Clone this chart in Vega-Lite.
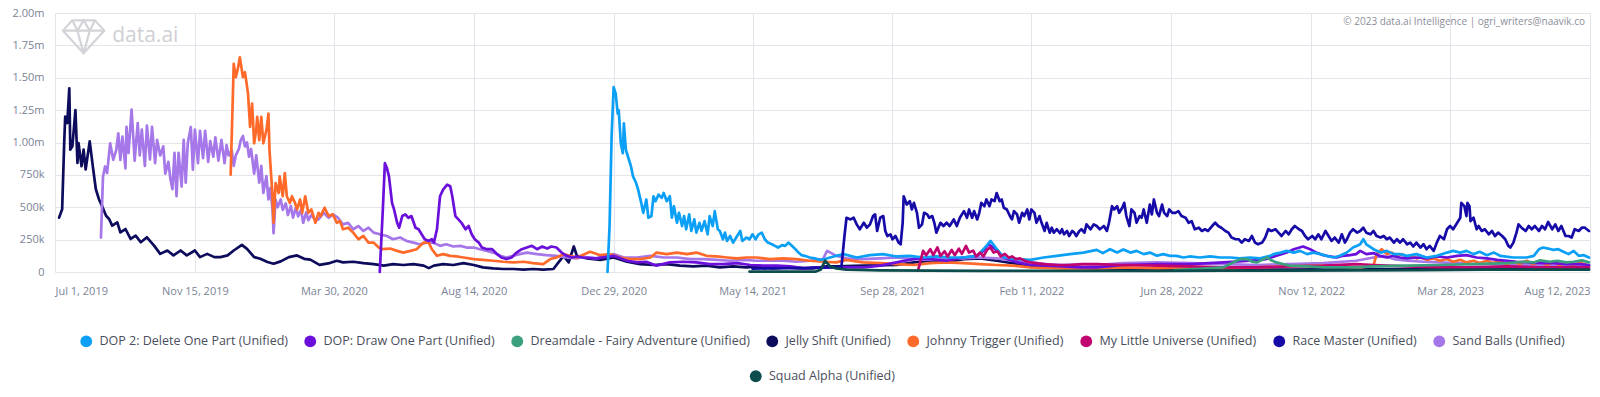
{
"$schema":"https://vega.github.io/schema/vega-lite/v6.json",
"width":1600,"height":397,
"autosize":{"type":"fit","contains":"padding"},
"padding":{"left":12,"top":7,"right":9,"bottom":14},
"background":"#ffffff",
"datasets":{
"names":[
{"s":"a","n":"DOP 2: Delete One Part (Unified)"},
{"s":"b","n":"DOP: Draw One Part (Unified)"},
{"s":"c","n":"Dreamdale - Fairy Adventure (Unified)"},
{"s":"d","n":"Jelly Shift (Unified)"},
{"s":"e","n":"Johnny Trigger (Unified)"},
{"s":"f","n":"My Little Universe (Unified)"},
{"s":"g","n":"Race Master (Unified)"},
{"s":"h","n":"Sand Balls (Unified)"},
{"s":"i","n":"Squad Alpha (Unified)"}
],
"rows":[
{"s":"d","t":"2019-07-05","v":420},{"s":"d","t":"2019-07-08","v":485},{"s":"d","t":"2019-07-10","v":996},{"s":"d","t":"2019-07-11","v":1200},{"s":"d","t":"2019-07-13","v":1150},{"s":"d","t":"2019-07-15","v":1418},{"s":"d","t":"2019-07-16","v":945},{"s":"d","t":"2019-07-18","v":970},{"s":"d","t":"2019-07-21","v":1250},{"s":"d","t":"2019-07-23","v":843},{"s":"d","t":"2019-07-24","v":996},{"s":"d","t":"2019-07-27","v":817},{"s":"d","t":"2019-07-29","v":945},{"s":"d","t":"2019-07-31","v":792},{"s":"d","t":"2019-08-04","v":1009},{"s":"d","t":"2019-08-07","v":817},{"s":"d","t":"2019-08-10","v":639},{"s":"d","t":"2019-08-13","v":562},{"s":"d","t":"2019-08-16","v":511},{"s":"d","t":"2019-08-20","v":434},{"s":"d","t":"2019-08-23","v":409},{"s":"d","t":"2019-08-26","v":358},{"s":"d","t":"2019-08-31","v":383},{"s":"d","t":"2019-09-03","v":306},{"s":"d","t":"2019-09-08","v":332},{"s":"d","t":"2019-09-13","v":255},{"s":"d","t":"2019-09-18","v":281},{"s":"d","t":"2019-09-23","v":230},{"s":"d","t":"2019-09-29","v":268},{"s":"d","t":"2019-10-06","v":204},{"s":"d","t":"2019-10-12","v":140},{"s":"d","t":"2019-10-19","v":166},{"s":"d","t":"2019-10-25","v":128},{"s":"d","t":"2019-11-01","v":166},{"s":"d","t":"2019-11-07","v":128},{"s":"d","t":"2019-11-15","v":166},{"s":"d","t":"2019-11-20","v":115},{"s":"d","t":"2019-11-27","v":140},{"s":"d","t":"2019-12-04","v":115},{"s":"d","t":"2019-12-10","v":115},{"s":"d","t":"2019-12-17","v":128},{"s":"d","t":"2019-12-23","v":166},{"s":"d","t":"2019-12-31","v":209},{"s":"d","t":"2020-01-05","v":179},{"s":"d","t":"2020-01-12","v":115},{"s":"d","t":"2020-01-18","v":102},{"s":"d","t":"2020-01-25","v":77},{"s":"d","t":"2020-01-31","v":64},{"s":"d","t":"2020-02-07","v":82},{"s":"d","t":"2020-02-15","v":115},{"s":"d","t":"2020-02-23","v":128},{"s":"d","t":"2020-03-01","v":102},{"s":"d","t":"2020-03-07","v":95},{"s":"d","t":"2020-03-16","v":55},{"s":"d","t":"2020-03-26","v":69},{"s":"d","t":"2020-04-02","v":87},{"s":"d","t":"2020-04-08","v":74},{"s":"d","t":"2020-04-18","v":79},{"s":"d","t":"2020-04-28","v":69},{"s":"d","t":"2020-05-08","v":61},{"s":"d","t":"2020-05-18","v":49},{"s":"d","t":"2020-05-27","v":61},{"s":"d","t":"2020-06-06","v":54},{"s":"d","t":"2020-06-16","v":61},{"s":"d","t":"2020-06-26","v":49},{"s":"d","t":"2020-07-01","v":30},{"s":"d","t":"2020-07-06","v":49},{"s":"d","t":"2020-07-15","v":61},{"s":"d","t":"2020-07-25","v":54},{"s":"d","t":"2020-08-04","v":69},{"s":"d","t":"2020-08-14","v":54},{"s":"d","t":"2020-08-23","v":36},{"s":"d","t":"2020-09-02","v":28},{"s":"d","t":"2020-09-12","v":23},{"s":"d","t":"2020-09-22","v":23},{"s":"d","t":"2020-10-02","v":18},{"s":"d","t":"2020-10-11","v":23},{"s":"d","t":"2020-10-21","v":18},{"s":"d","t":"2020-10-31","v":23},{"s":"d","t":"2020-11-05","v":74},{"s":"d","t":"2020-11-10","v":125},{"s":"d","t":"2020-11-15","v":74},{"s":"d","t":"2020-11-20","v":197},{"s":"d","t":"2020-11-23","v":125},{"s":"d","t":"2020-12-03","v":105},{"s":"d","t":"2020-12-16","v":94},{"s":"d","t":"2020-12-29","v":112},{"s":"d","t":"2021-01-11","v":79},{"s":"d","t":"2021-01-24","v":61},{"s":"d","t":"2021-02-06","v":54},{"s":"d","t":"2021-02-19","v":61},{"s":"d","t":"2021-03-04","v":49},{"s":"d","t":"2021-03-17","v":43},{"s":"d","t":"2021-03-30","v":49},{"s":"d","t":"2021-04-12","v":36},{"s":"d","t":"2021-04-25","v":43},{"s":"d","t":"2021-05-08","v":36},{"s":"d","t":"2021-05-21","v":43},{"s":"d","t":"2021-06-03","v":28},{"s":"d","t":"2021-06-16","v":36},{"s":"d","t":"2021-06-29","v":28},{"s":"d","t":"2021-07-12","v":28},{"s":"d","t":"2021-07-25","v":43},{"s":"d","t":"2021-08-04","v":43},{"s":"d","t":"2021-08-31","v":49},{"s":"d","t":"2021-10-02","v":54},{"s":"d","t":"2021-10-19","v":74},{"s":"d","t":"2021-11-04","v":87},{"s":"d","t":"2021-11-20","v":79},{"s":"d","t":"2021-12-07","v":100},{"s":"d","t":"2021-12-23","v":105},{"s":"d","t":"2022-01-08","v":87},{"s":"d","t":"2022-01-24","v":69},{"s":"d","t":"2022-02-10","v":49},{"s":"d","t":"2022-03-15","v":36},{"s":"d","t":"2022-04-16","v":28},{"s":"d","t":"2022-06-14","v":23},{"s":"d","t":"2022-08-18","v":18},{"s":"d","t":"2022-10-22","v":18},{"s":"d","t":"2022-12-26","v":23},{"s":"d","t":"2023-03-02","v":23},{"s":"d","t":"2023-05-01","v":23},{"s":"d","t":"2023-06-30","v":23},{"s":"d","t":"2023-08-11","v":23},
{"s":"h","t":"2019-08-15","v":266},{"s":"h","t":"2019-08-17","v":738},{"s":"h","t":"2019-08-19","v":815},{"s":"h","t":"2019-08-21","v":764},{"s":"h","t":"2019-08-24","v":994},{"s":"h","t":"2019-08-27","v":866},{"s":"h","t":"2019-08-30","v":943},{"s":"h","t":"2019-09-01","v":1070},{"s":"h","t":"2019-09-03","v":866},{"s":"h","t":"2019-09-05","v":1045},{"s":"h","t":"2019-09-08","v":800},{"s":"h","t":"2019-09-09","v":1120},{"s":"h","t":"2019-09-11","v":920},{"s":"h","t":"2019-09-14","v":1254},{"s":"h","t":"2019-09-17","v":860},{"s":"h","t":"2019-09-20","v":1150},{"s":"h","t":"2019-09-22","v":900},{"s":"h","t":"2019-09-24","v":1100},{"s":"h","t":"2019-09-27","v":820},{"s":"h","t":"2019-09-29","v":1130},{"s":"h","t":"2019-10-02","v":870},{"s":"h","t":"2019-10-04","v":1120},{"s":"h","t":"2019-10-07","v":840},{"s":"h","t":"2019-10-09","v":1020},{"s":"h","t":"2019-10-12","v":900},{"s":"h","t":"2019-10-15","v":970},{"s":"h","t":"2019-10-17","v":760},{"s":"h","t":"2019-10-20","v":850},{"s":"h","t":"2019-10-22","v":720},{"s":"h","t":"2019-10-24","v":640},{"s":"h","t":"2019-10-26","v":920},{"s":"h","t":"2019-10-28","v":585},{"s":"h","t":"2019-10-30","v":920},{"s":"h","t":"2019-11-02","v":660},{"s":"h","t":"2019-11-04","v":1020},{"s":"h","t":"2019-11-06","v":690},{"s":"h","t":"2019-11-08","v":994},{"s":"h","t":"2019-11-11","v":1120},{"s":"h","t":"2019-11-13","v":790},{"s":"h","t":"2019-11-15","v":1100},{"s":"h","t":"2019-11-18","v":840},{"s":"h","t":"2019-11-20","v":1090},{"s":"h","t":"2019-11-23","v":880},{"s":"h","t":"2019-11-25","v":1090},{"s":"h","t":"2019-11-28","v":850},{"s":"h","t":"2019-11-30","v":1010},{"s":"h","t":"2019-12-03","v":890},{"s":"h","t":"2019-12-05","v":1040},{"s":"h","t":"2019-12-08","v":860},{"s":"h","t":"2019-12-11","v":1020},{"s":"h","t":"2019-12-14","v":840},{"s":"h","t":"2019-12-16","v":980},{"s":"h","t":"2019-12-18","v":900},{"s":"h","t":"2019-12-21","v":940},{"s":"h","t":"2019-12-23","v":820},{"s":"h","t":"2019-12-25","v":900},{"s":"h","t":"2019-12-28","v":950},{"s":"h","t":"2019-12-30","v":1020},{"s":"h","t":"2020-01-01","v":1050},{"s":"h","t":"2020-01-03","v":970},{"s":"h","t":"2020-01-05","v":1000},{"s":"h","t":"2020-01-07","v":890},{"s":"h","t":"2020-01-09","v":950},{"s":"h","t":"2020-01-12","v":760},{"s":"h","t":"2020-01-14","v":900},{"s":"h","t":"2020-01-17","v":690},{"s":"h","t":"2020-01-19","v":820},{"s":"h","t":"2020-01-21","v":610},{"s":"h","t":"2020-01-24","v":740},{"s":"h","t":"2020-01-26","v":560},{"s":"h","t":"2020-01-28","v":650},{"s":"h","t":"2020-01-30","v":480},{"s":"h","t":"2020-01-31","v":300},{"s":"h","t":"2020-02-02","v":560},{"s":"h","t":"2020-02-04","v":500},{"s":"h","t":"2020-02-07","v":560},{"s":"h","t":"2020-02-09","v":480},{"s":"h","t":"2020-02-12","v":530},{"s":"h","t":"2020-02-14","v":440},{"s":"h","t":"2020-02-17","v":510},{"s":"h","t":"2020-02-19","v":420},{"s":"h","t":"2020-02-22","v":500},{"s":"h","t":"2020-02-24","v":430},{"s":"h","t":"2020-02-27","v":480},{"s":"h","t":"2020-02-29","v":380},{"s":"h","t":"2020-03-03","v":460},{"s":"h","t":"2020-03-05","v":400},{"s":"h","t":"2020-03-08","v":440},{"s":"h","t":"2020-03-12","v":400},{"s":"h","t":"2020-03-15","v":406},{"s":"h","t":"2020-03-20","v":457},{"s":"h","t":"2020-03-25","v":419},{"s":"h","t":"2020-03-29","v":445},{"s":"h","t":"2020-04-03","v":419},{"s":"h","t":"2020-04-08","v":368},{"s":"h","t":"2020-04-13","v":380},{"s":"h","t":"2020-04-18","v":330},{"s":"h","t":"2020-04-23","v":355},{"s":"h","t":"2020-04-28","v":317},{"s":"h","t":"2020-05-03","v":342},{"s":"h","t":"2020-05-08","v":304},{"s":"h","t":"2020-05-14","v":291},{"s":"h","t":"2020-05-21","v":278},{"s":"h","t":"2020-05-27","v":253},{"s":"h","t":"2020-06-03","v":266},{"s":"h","t":"2020-06-09","v":240},{"s":"h","t":"2020-06-16","v":227},{"s":"h","t":"2020-06-22","v":214},{"s":"h","t":"2020-06-29","v":227},{"s":"h","t":"2020-07-05","v":227},{"s":"h","t":"2020-07-12","v":202},{"s":"h","t":"2020-07-18","v":214},{"s":"h","t":"2020-07-25","v":197},{"s":"h","t":"2020-08-01","v":202},{"s":"h","t":"2020-08-07","v":189},{"s":"h","t":"2020-08-14","v":189},{"s":"h","t":"2020-08-20","v":176},{"s":"h","t":"2020-08-27","v":163},{"s":"h","t":"2020-09-02","v":150},{"s":"h","t":"2020-09-09","v":125},{"s":"h","t":"2020-09-15","v":112},{"s":"h","t":"2020-09-22","v":125},{"s":"h","t":"2020-09-28","v":138},{"s":"h","t":"2020-10-05","v":150},{"s":"h","t":"2020-10-15","v":138},{"s":"h","t":"2020-10-24","v":130},{"s":"h","t":"2020-11-03","v":125},{"s":"h","t":"2020-11-13","v":112},{"s":"h","t":"2020-11-23","v":105},{"s":"h","t":"2020-11-29","v":118},{"s":"h","t":"2020-12-12","v":105},{"s":"h","t":"2020-12-29","v":138},{"s":"h","t":"2021-01-08","v":112},{"s":"h","t":"2021-01-21","v":112},{"s":"h","t":"2021-02-03","v":125},{"s":"h","t":"2021-02-16","v":112},{"s":"h","t":"2021-03-01","v":112},{"s":"h","t":"2021-03-14","v":100},{"s":"h","t":"2021-03-27","v":100},{"s":"h","t":"2021-04-09","v":94},{"s":"h","t":"2021-04-22","v":87},{"s":"h","t":"2021-05-05","v":94},{"s":"h","t":"2021-05-18","v":87},{"s":"h","t":"2021-05-31","v":87},{"s":"h","t":"2021-06-13","v":87},{"s":"h","t":"2021-06-26","v":79},{"s":"h","t":"2021-07-09","v":87},{"s":"h","t":"2021-07-22","v":100},{"s":"h","t":"2021-07-26","v":163},{"s":"h","t":"2021-08-01","v":138},{"s":"h","t":"2021-08-04","v":125},{"s":"h","t":"2021-08-14","v":105},{"s":"h","t":"2021-08-30","v":100},{"s":"h","t":"2021-09-16","v":105},{"s":"h","t":"2021-10-02","v":112},{"s":"h","t":"2021-10-19","v":100},{"s":"h","t":"2021-11-04","v":94},{"s":"h","t":"2021-11-20","v":100},{"s":"h","t":"2021-12-06","v":105},{"s":"h","t":"2021-12-23","v":112},{"s":"h","t":"2022-01-08","v":105},{"s":"h","t":"2022-01-24","v":87},{"s":"h","t":"2022-02-10","v":74},{"s":"h","t":"2022-02-26","v":61},{"s":"h","t":"2022-03-14","v":54},{"s":"h","t":"2022-03-31","v":61},{"s":"h","t":"2022-04-16","v":54},{"s":"h","t":"2022-05-12","v":69},{"s":"h","t":"2022-06-14","v":74},{"s":"h","t":"2022-07-16","v":69},{"s":"h","t":"2022-08-18","v":61},{"s":"h","t":"2022-09-20","v":54},{"s":"h","t":"2022-10-22","v":61},{"s":"h","t":"2022-11-24","v":69},{"s":"h","t":"2022-12-26","v":87},{"s":"h","t":"2023-01-12","v":112},{"s":"h","t":"2023-01-22","v":125},{"s":"h","t":"2023-02-01","v":100},{"s":"h","t":"2023-02-14","v":87},{"s":"h","t":"2023-03-02","v":79},{"s":"h","t":"2023-03-18","v":74},{"s":"h","t":"2023-04-04","v":69},{"s":"h","t":"2023-04-20","v":61},{"s":"h","t":"2023-05-06","v":61},{"s":"h","t":"2023-05-23","v":54},{"s":"h","t":"2023-06-08","v":54},{"s":"h","t":"2023-06-24","v":49},{"s":"h","t":"2023-07-11","v":49},{"s":"h","t":"2023-07-27","v":43},{"s":"h","t":"2023-08-11","v":43},
{"s":"e","t":"2019-12-20","v":751},{"s":"e","t":"2019-12-23","v":1607},{"s":"e","t":"2019-12-25","v":1504},{"s":"e","t":"2019-12-27","v":1568},{"s":"e","t":"2019-12-29","v":1658},{"s":"e","t":"2020-01-01","v":1504},{"s":"e","t":"2020-01-03","v":1543},{"s":"e","t":"2020-01-06","v":1377},{"s":"e","t":"2020-01-08","v":1121},{"s":"e","t":"2020-01-10","v":1300},{"s":"e","t":"2020-01-12","v":994},{"s":"e","t":"2020-01-14","v":1096},{"s":"e","t":"2020-01-15","v":1198},{"s":"e","t":"2020-01-17","v":1019},{"s":"e","t":"2020-01-19","v":1198},{"s":"e","t":"2020-01-21","v":994},{"s":"e","t":"2020-01-24","v":1096},{"s":"e","t":"2020-01-26","v":1223},{"s":"e","t":"2020-01-27","v":943},{"s":"e","t":"2020-01-30","v":585},{"s":"e","t":"2020-01-31","v":380},{"s":"e","t":"2020-02-02","v":687},{"s":"e","t":"2020-02-05","v":610},{"s":"e","t":"2020-02-06","v":738},{"s":"e","t":"2020-02-09","v":585},{"s":"e","t":"2020-02-11","v":764},{"s":"e","t":"2020-02-13","v":585},{"s":"e","t":"2020-02-16","v":534},{"s":"e","t":"2020-02-18","v":585},{"s":"e","t":"2020-02-21","v":534},{"s":"e","t":"2020-02-23","v":483},{"s":"e","t":"2020-02-26","v":560},{"s":"e","t":"2020-02-28","v":457},{"s":"e","t":"2020-03-02","v":585},{"s":"e","t":"2020-03-05","v":457},{"s":"e","t":"2020-03-08","v":483},{"s":"e","t":"2020-03-12","v":380},{"s":"e","t":"2020-03-15","v":457},{"s":"e","t":"2020-03-17","v":432},{"s":"e","t":"2020-03-21","v":496},{"s":"e","t":"2020-03-25","v":432},{"s":"e","t":"2020-03-29","v":445},{"s":"e","t":"2020-04-02","v":380},{"s":"e","t":"2020-04-05","v":393},{"s":"e","t":"2020-04-08","v":330},{"s":"e","t":"2020-04-13","v":342},{"s":"e","t":"2020-04-18","v":304},{"s":"e","t":"2020-04-23","v":253},{"s":"e","t":"2020-04-28","v":278},{"s":"e","t":"2020-05-03","v":227},{"s":"e","t":"2020-05-08","v":227},{"s":"e","t":"2020-05-13","v":189},{"s":"e","t":"2020-05-17","v":176},{"s":"e","t":"2020-05-24","v":181},{"s":"e","t":"2020-05-31","v":163},{"s":"e","t":"2020-06-06","v":150},{"s":"e","t":"2020-06-13","v":163},{"s":"e","t":"2020-06-19","v":176},{"s":"e","t":"2020-06-26","v":227},{"s":"e","t":"2020-07-01","v":227},{"s":"e","t":"2020-07-04","v":176},{"s":"e","t":"2020-07-09","v":125},{"s":"e","t":"2020-07-15","v":138},{"s":"e","t":"2020-07-22","v":125},{"s":"e","t":"2020-07-28","v":120},{"s":"e","t":"2020-08-04","v":112},{"s":"e","t":"2020-08-14","v":100},{"s":"e","t":"2020-08-23","v":94},{"s":"e","t":"2020-09-02","v":87},{"s":"e","t":"2020-09-12","v":79},{"s":"e","t":"2020-09-22","v":74},{"s":"e","t":"2020-10-02","v":79},{"s":"e","t":"2020-10-11","v":69},{"s":"e","t":"2020-10-21","v":61},{"s":"e","t":"2020-10-28","v":100},{"s":"e","t":"2020-11-03","v":112},{"s":"e","t":"2020-11-10","v":138},{"s":"e","t":"2020-11-16","v":125},{"s":"e","t":"2020-11-23","v":112},{"s":"e","t":"2020-12-06","v":156},{"s":"e","t":"2020-12-16","v":130},{"s":"e","t":"2020-12-25","v":138},{"s":"e","t":"2021-01-04","v":112},{"s":"e","t":"2021-01-14","v":100},{"s":"e","t":"2021-01-24","v":100},{"s":"e","t":"2021-02-03","v":112},{"s":"e","t":"2021-02-09","v":150},{"s":"e","t":"2021-02-19","v":138},{"s":"e","t":"2021-03-01","v":150},{"s":"e","t":"2021-03-11","v":138},{"s":"e","t":"2021-03-20","v":150},{"s":"e","t":"2021-03-30","v":125},{"s":"e","t":"2021-04-09","v":120},{"s":"e","t":"2021-04-19","v":112},{"s":"e","t":"2021-04-29","v":105},{"s":"e","t":"2021-05-08","v":112},{"s":"e","t":"2021-05-18","v":112},{"s":"e","t":"2021-05-31","v":100},{"s":"e","t":"2021-06-13","v":105},{"s":"e","t":"2021-06-26","v":100},{"s":"e","t":"2021-07-09","v":87},{"s":"e","t":"2021-07-22","v":79},{"s":"e","t":"2021-08-04","v":74},{"s":"e","t":"2021-08-14","v":94},{"s":"e","t":"2021-08-30","v":74},{"s":"e","t":"2021-09-16","v":69},{"s":"e","t":"2021-10-02","v":61},{"s":"e","t":"2021-10-19","v":54},{"s":"e","t":"2021-11-04","v":69},{"s":"e","t":"2021-11-20","v":74},{"s":"e","t":"2021-12-06","v":69},{"s":"e","t":"2021-12-23","v":61},{"s":"e","t":"2022-01-08","v":54},{"s":"e","t":"2022-01-24","v":49},{"s":"e","t":"2022-02-10","v":36},{"s":"e","t":"2022-03-14","v":28},{"s":"e","t":"2022-04-16","v":28},{"s":"e","t":"2022-05-12","v":36},{"s":"e","t":"2022-06-14","v":28},{"s":"e","t":"2022-07-16","v":36},{"s":"e","t":"2022-08-18","v":28},{"s":"e","t":"2022-09-20","v":36},{"s":"e","t":"2022-10-22","v":43},{"s":"e","t":"2022-11-24","v":49},{"s":"e","t":"2022-12-10","v":43},{"s":"e","t":"2022-12-30","v":36},{"s":"e","t":"2023-01-12","v":49},{"s":"e","t":"2023-01-15","v":138},{"s":"e","t":"2023-01-20","v":176},{"s":"e","t":"2023-01-25","v":138},{"s":"e","t":"2023-01-30","v":150},{"s":"e","t":"2023-02-04","v":125},{"s":"e","t":"2023-02-09","v":138},{"s":"e","t":"2023-02-14","v":112},{"s":"e","t":"2023-02-18","v":125},{"s":"e","t":"2023-02-23","v":105},{"s":"e","t":"2023-02-28","v":112},{"s":"e","t":"2023-03-05","v":94},{"s":"e","t":"2023-03-12","v":105},{"s":"e","t":"2023-03-18","v":87},{"s":"e","t":"2023-03-25","v":100},{"s":"e","t":"2023-03-31","v":79},{"s":"e","t":"2023-04-07","v":94},{"s":"e","t":"2023-04-13","v":74},{"s":"e","t":"2023-04-20","v":87},{"s":"e","t":"2023-04-26","v":69},{"s":"e","t":"2023-05-03","v":87},{"s":"e","t":"2023-05-09","v":69},{"s":"e","t":"2023-05-16","v":87},{"s":"e","t":"2023-05-22","v":61},{"s":"e","t":"2023-05-29","v":79},{"s":"e","t":"2023-06-04","v":61},{"s":"e","t":"2023-06-11","v":87},{"s":"e","t":"2023-06-17","v":61},{"s":"e","t":"2023-06-24","v":79},{"s":"e","t":"2023-07-01","v":54},{"s":"e","t":"2023-07-07","v":79},{"s":"e","t":"2023-07-13","v":54},{"s":"e","t":"2023-07-20","v":74},{"s":"e","t":"2023-07-27","v":49},{"s":"e","t":"2023-08-02","v":74},{"s":"e","t":"2023-08-11","v":49},
{"s":"b","t":"2020-05-14","v":0},{"s":"b","t":"2020-05-17","v":483},{"s":"b","t":"2020-05-19","v":840},{"s":"b","t":"2020-05-21","v":802},{"s":"b","t":"2020-05-23","v":738},{"s":"b","t":"2020-05-26","v":534},{"s":"b","t":"2020-05-28","v":483},{"s":"b","t":"2020-05-31","v":380},{"s":"b","t":"2020-06-02","v":342},{"s":"b","t":"2020-06-05","v":432},{"s":"b","t":"2020-06-08","v":445},{"s":"b","t":"2020-06-11","v":419},{"s":"b","t":"2020-06-14","v":432},{"s":"b","t":"2020-06-18","v":342},{"s":"b","t":"2020-06-21","v":330},{"s":"b","t":"2020-06-24","v":291},{"s":"b","t":"2020-06-27","v":253},{"s":"b","t":"2020-07-01","v":240},{"s":"b","t":"2020-07-04","v":253},{"s":"b","t":"2020-07-06","v":227},{"s":"b","t":"2020-07-09","v":330},{"s":"b","t":"2020-07-12","v":585},{"s":"b","t":"2020-07-15","v":636},{"s":"b","t":"2020-07-19","v":674},{"s":"b","t":"2020-07-22","v":662},{"s":"b","t":"2020-07-24","v":585},{"s":"b","t":"2020-07-27","v":432},{"s":"b","t":"2020-07-30","v":406},{"s":"b","t":"2020-08-02","v":380},{"s":"b","t":"2020-08-06","v":330},{"s":"b","t":"2020-08-09","v":355},{"s":"b","t":"2020-08-12","v":291},{"s":"b","t":"2020-08-15","v":253},{"s":"b","t":"2020-08-19","v":227},{"s":"b","t":"2020-08-22","v":189},{"s":"b","t":"2020-08-27","v":176},{"s":"b","t":"2020-09-01","v":176},{"s":"b","t":"2020-09-06","v":138},{"s":"b","t":"2020-09-10","v":112},{"s":"b","t":"2020-09-15","v":100},{"s":"b","t":"2020-09-20","v":112},{"s":"b","t":"2020-09-25","v":150},{"s":"b","t":"2020-09-30","v":176},{"s":"b","t":"2020-10-05","v":189},{"s":"b","t":"2020-10-10","v":202},{"s":"b","t":"2020-10-15","v":176},{"s":"b","t":"2020-10-20","v":197},{"s":"b","t":"2020-10-25","v":181},{"s":"b","t":"2020-10-29","v":197},{"s":"b","t":"2020-11-03","v":189},{"s":"b","t":"2020-11-08","v":150},{"s":"b","t":"2020-11-13","v":125},{"s":"b","t":"2020-11-18","v":112},{"s":"b","t":"2020-11-23","v":120},{"s":"b","t":"2020-11-29","v":112},{"s":"b","t":"2020-12-12","v":105},{"s":"b","t":"2020-12-29","v":125},{"s":"b","t":"2021-01-11","v":87},{"s":"b","t":"2021-01-21","v":74},{"s":"b","t":"2021-01-30","v":79},{"s":"b","t":"2021-02-09","v":49},{"s":"b","t":"2021-02-22","v":74},{"s":"b","t":"2021-03-07","v":79},{"s":"b","t":"2021-03-20","v":74},{"s":"b","t":"2021-04-02","v":61},{"s":"b","t":"2021-04-15","v":61},{"s":"b","t":"2021-04-29","v":69},{"s":"b","t":"2021-05-12","v":54},{"s":"b","t":"2021-05-25","v":49},{"s":"b","t":"2021-06-07","v":49},{"s":"b","t":"2021-06-20","v":43},{"s":"b","t":"2021-07-04","v":28},{"s":"b","t":"2021-07-14","v":36},{"s":"b","t":"2021-07-25","v":36},{"s":"b","t":"2021-08-31","v":36},{"s":"b","t":"2021-09-16","v":49},{"s":"b","t":"2021-10-02","v":74},{"s":"b","t":"2021-10-22","v":105},{"s":"b","t":"2021-11-04","v":100},{"s":"b","t":"2021-11-20","v":87},{"s":"b","t":"2021-12-06","v":112},{"s":"b","t":"2021-12-20","v":125},{"s":"b","t":"2021-12-26","v":163},{"s":"b","t":"2021-12-31","v":214},{"s":"b","t":"2022-01-05","v":189},{"s":"b","t":"2022-01-10","v":150},{"s":"b","t":"2022-01-15","v":112},{"s":"b","t":"2022-01-28","v":74},{"s":"b","t":"2022-02-10","v":54},{"s":"b","t":"2022-02-26","v":49},{"s":"b","t":"2022-03-14","v":43},{"s":"b","t":"2022-03-31","v":36},{"s":"b","t":"2022-04-16","v":36},{"s":"b","t":"2022-05-12","v":54},{"s":"b","t":"2022-06-14","v":61},{"s":"b","t":"2022-07-16","v":61},{"s":"b","t":"2022-08-18","v":74},{"s":"b","t":"2022-09-13","v":87},{"s":"b","t":"2022-09-29","v":100},{"s":"b","t":"2022-10-09","v":125},{"s":"b","t":"2022-10-19","v":150},{"s":"b","t":"2022-10-26","v":176},{"s":"b","t":"2022-11-04","v":197},{"s":"b","t":"2022-11-11","v":176},{"s":"b","t":"2022-11-17","v":150},{"s":"b","t":"2022-11-24","v":130},{"s":"b","t":"2022-11-30","v":120},{"s":"b","t":"2022-12-07","v":112},{"s":"b","t":"2022-12-13","v":125},{"s":"b","t":"2022-12-20","v":130},{"s":"b","t":"2022-12-26","v":138},{"s":"b","t":"2022-12-30","v":163},{"s":"b","t":"2023-01-05","v":138},{"s":"b","t":"2023-01-12","v":146},{"s":"b","t":"2023-01-18","v":125},{"s":"b","t":"2023-01-25","v":112},{"s":"b","t":"2023-01-31","v":125},{"s":"b","t":"2023-02-07","v":112},{"s":"b","t":"2023-02-14","v":105},{"s":"b","t":"2023-02-24","v":112},{"s":"b","t":"2023-03-05","v":105},{"s":"b","t":"2023-03-15","v":120},{"s":"b","t":"2023-03-25","v":112},{"s":"b","t":"2023-04-04","v":125},{"s":"b","t":"2023-04-13","v":130},{"s":"b","t":"2023-04-23","v":112},{"s":"b","t":"2023-05-03","v":105},{"s":"b","t":"2023-05-13","v":94},{"s":"b","t":"2023-05-23","v":87},{"s":"b","t":"2023-06-01","v":79},{"s":"b","t":"2023-06-11","v":74},{"s":"b","t":"2023-06-24","v":69},{"s":"b","t":"2023-07-07","v":69},{"s":"b","t":"2023-07-20","v":61},{"s":"b","t":"2023-08-02","v":61},{"s":"b","t":"2023-08-11","v":54},
{"s":"a","t":"2020-12-23","v":0},{"s":"a","t":"2020-12-25","v":355},{"s":"a","t":"2020-12-27","v":1045},{"s":"a","t":"2020-12-29","v":1428},{"s":"a","t":"2020-12-31","v":1377},{"s":"a","t":"2021-01-02","v":1223},{"s":"a","t":"2021-01-03","v":1249},{"s":"a","t":"2021-01-05","v":994},{"s":"a","t":"2021-01-07","v":917},{"s":"a","t":"2021-01-08","v":1147},{"s":"a","t":"2021-01-10","v":943},{"s":"a","t":"2021-01-12","v":892},{"s":"a","t":"2021-01-15","v":815},{"s":"a","t":"2021-01-17","v":738},{"s":"a","t":"2021-01-20","v":687},{"s":"a","t":"2021-01-22","v":636},{"s":"a","t":"2021-01-25","v":534},{"s":"a","t":"2021-01-27","v":457},{"s":"a","t":"2021-01-30","v":560},{"s":"a","t":"2021-02-01","v":419},{"s":"a","t":"2021-02-04","v":432},{"s":"a","t":"2021-02-06","v":585},{"s":"a","t":"2021-02-08","v":547},{"s":"a","t":"2021-02-11","v":598},{"s":"a","t":"2021-02-14","v":572},{"s":"a","t":"2021-02-16","v":610},{"s":"a","t":"2021-02-19","v":547},{"s":"a","t":"2021-02-22","v":585},{"s":"a","t":"2021-02-24","v":419},{"s":"a","t":"2021-02-26","v":508},{"s":"a","t":"2021-03-01","v":380},{"s":"a","t":"2021-03-03","v":457},{"s":"a","t":"2021-03-06","v":355},{"s":"a","t":"2021-03-08","v":432},{"s":"a","t":"2021-03-10","v":330},{"s":"a","t":"2021-03-13","v":445},{"s":"a","t":"2021-03-15","v":317},{"s":"a","t":"2021-03-18","v":406},{"s":"a","t":"2021-03-20","v":304},{"s":"a","t":"2021-03-23","v":380},{"s":"a","t":"2021-03-25","v":317},{"s":"a","t":"2021-03-28","v":393},{"s":"a","t":"2021-03-31","v":291},{"s":"a","t":"2021-04-02","v":432},{"s":"a","t":"2021-04-05","v":355},{"s":"a","t":"2021-04-07","v":470},{"s":"a","t":"2021-04-10","v":330},{"s":"a","t":"2021-04-12","v":317},{"s":"a","t":"2021-04-15","v":253},{"s":"a","t":"2021-04-17","v":304},{"s":"a","t":"2021-04-19","v":240},{"s":"a","t":"2021-04-22","v":278},{"s":"a","t":"2021-04-25","v":227},{"s":"a","t":"2021-04-28","v":266},{"s":"a","t":"2021-05-02","v":317},{"s":"a","t":"2021-05-04","v":240},{"s":"a","t":"2021-05-08","v":266},{"s":"a","t":"2021-05-11","v":253},{"s":"a","t":"2021-05-14","v":291},{"s":"a","t":"2021-05-17","v":253},{"s":"a","t":"2021-05-20","v":291},{"s":"a","t":"2021-05-23","v":304},{"s":"a","t":"2021-05-26","v":253},{"s":"a","t":"2021-05-29","v":227},{"s":"a","t":"2021-06-02","v":214},{"s":"a","t":"2021-06-05","v":202},{"s":"a","t":"2021-06-08","v":189},{"s":"a","t":"2021-06-12","v":207},{"s":"a","t":"2021-06-15","v":202},{"s":"a","t":"2021-06-18","v":227},{"s":"a","t":"2021-06-21","v":207},{"s":"a","t":"2021-06-25","v":176},{"s":"a","t":"2021-06-28","v":150},{"s":"a","t":"2021-07-01","v":130},{"s":"a","t":"2021-07-04","v":125},{"s":"a","t":"2021-07-09","v":112},{"s":"a","t":"2021-07-14","v":105},{"s":"a","t":"2021-07-19","v":94},{"s":"a","t":"2021-07-24","v":100},{"s":"a","t":"2021-07-29","v":112},{"s":"a","t":"2021-08-04","v":125},{"s":"a","t":"2021-08-11","v":138},{"s":"a","t":"2021-08-24","v":112},{"s":"a","t":"2021-09-06","v":130},{"s":"a","t":"2021-09-19","v":138},{"s":"a","t":"2021-10-02","v":120},{"s":"a","t":"2021-10-15","v":125},{"s":"a","t":"2021-10-28","v":112},{"s":"a","t":"2021-11-10","v":120},{"s":"a","t":"2021-11-23","v":112},{"s":"a","t":"2021-12-06","v":112},{"s":"a","t":"2021-12-20","v":125},{"s":"a","t":"2021-12-29","v":202},{"s":"a","t":"2022-01-02","v":240},{"s":"a","t":"2022-01-07","v":189},{"s":"a","t":"2022-01-15","v":112},{"s":"a","t":"2022-01-28","v":100},{"s":"a","t":"2022-02-10","v":94},{"s":"a","t":"2022-02-23","v":112},{"s":"a","t":"2022-03-08","v":125},{"s":"a","t":"2022-03-21","v":138},{"s":"a","t":"2022-04-03","v":150},{"s":"a","t":"2022-04-16","v":171},{"s":"a","t":"2022-04-22","v":146},{"s":"a","t":"2022-04-29","v":176},{"s":"a","t":"2022-05-06","v":150},{"s":"a","t":"2022-05-12","v":174},{"s":"a","t":"2022-05-19","v":150},{"s":"a","t":"2022-05-25","v":163},{"s":"a","t":"2022-06-01","v":138},{"s":"a","t":"2022-06-07","v":150},{"s":"a","t":"2022-06-14","v":125},{"s":"a","t":"2022-06-20","v":138},{"s":"a","t":"2022-06-27","v":125},{"s":"a","t":"2022-07-03","v":125},{"s":"a","t":"2022-07-10","v":112},{"s":"a","t":"2022-07-16","v":120},{"s":"a","t":"2022-07-26","v":112},{"s":"a","t":"2022-08-05","v":120},{"s":"a","t":"2022-08-15","v":112},{"s":"a","t":"2022-08-25","v":112},{"s":"a","t":"2022-09-03","v":105},{"s":"a","t":"2022-09-13","v":112},{"s":"a","t":"2022-09-23","v":105},{"s":"a","t":"2022-10-03","v":125},{"s":"a","t":"2022-10-06","v":138},{"s":"a","t":"2022-10-13","v":150},{"s":"a","t":"2022-10-19","v":163},{"s":"a","t":"2022-10-26","v":150},{"s":"a","t":"2022-11-01","v":163},{"s":"a","t":"2022-11-08","v":138},{"s":"a","t":"2022-11-14","v":150},{"s":"a","t":"2022-11-21","v":138},{"s":"a","t":"2022-11-27","v":125},{"s":"a","t":"2022-12-04","v":112},{"s":"a","t":"2022-12-10","v":125},{"s":"a","t":"2022-12-17","v":150},{"s":"a","t":"2022-12-23","v":189},{"s":"a","t":"2022-12-27","v":202},{"s":"a","t":"2022-12-30","v":214},{"s":"a","t":"2023-01-02","v":253},{"s":"a","t":"2023-01-05","v":214},{"s":"a","t":"2023-01-12","v":176},{"s":"a","t":"2023-01-19","v":150},{"s":"a","t":"2023-01-25","v":163},{"s":"a","t":"2023-02-01","v":138},{"s":"a","t":"2023-02-07","v":138},{"s":"a","t":"2023-02-14","v":125},{"s":"a","t":"2023-02-23","v":138},{"s":"a","t":"2023-03-05","v":112},{"s":"a","t":"2023-03-15","v":125},{"s":"a","t":"2023-03-25","v":150},{"s":"a","t":"2023-03-31","v":163},{"s":"a","t":"2023-04-07","v":150},{"s":"a","t":"2023-04-13","v":163},{"s":"a","t":"2023-04-20","v":138},{"s":"a","t":"2023-04-26","v":156},{"s":"a","t":"2023-05-03","v":130},{"s":"a","t":"2023-05-10","v":150},{"s":"a","t":"2023-05-16","v":125},{"s":"a","t":"2023-05-29","v":112},{"s":"a","t":"2023-06-11","v":112},{"s":"a","t":"2023-06-18","v":125},{"s":"a","t":"2023-06-23","v":176},{"s":"a","t":"2023-06-27","v":189},{"s":"a","t":"2023-07-02","v":181},{"s":"a","t":"2023-07-07","v":171},{"s":"a","t":"2023-07-12","v":176},{"s":"a","t":"2023-07-17","v":156},{"s":"a","t":"2023-07-22","v":138},{"s":"a","t":"2023-07-27","v":163},{"s":"a","t":"2023-08-01","v":125},{"s":"a","t":"2023-08-06","v":130},{"s":"a","t":"2023-08-11","v":112},
{"s":"f","t":"2021-10-23","v":10},{"s":"f","t":"2021-10-28","v":163},{"s":"f","t":"2021-10-31","v":130},{"s":"f","t":"2021-11-04","v":176},{"s":"f","t":"2021-11-07","v":130},{"s":"f","t":"2021-11-11","v":190},{"s":"f","t":"2021-11-14","v":125},{"s":"f","t":"2021-11-18","v":160},{"s":"f","t":"2021-11-21","v":120},{"s":"f","t":"2021-11-25","v":170},{"s":"f","t":"2021-11-28","v":130},{"s":"f","t":"2021-12-02","v":180},{"s":"f","t":"2021-12-05","v":140},{"s":"f","t":"2021-12-09","v":202},{"s":"f","t":"2021-12-12","v":150},{"s":"f","t":"2021-12-16","v":165},{"s":"f","t":"2021-12-19","v":120},{"s":"f","t":"2021-12-23","v":150},{"s":"f","t":"2021-12-26","v":120},{"s":"f","t":"2021-12-30","v":175},{"s":"f","t":"2022-01-02","v":189},{"s":"f","t":"2022-01-05","v":150},{"s":"f","t":"2022-01-09","v":160},{"s":"f","t":"2022-01-12","v":120},{"s":"f","t":"2022-01-16","v":140},{"s":"f","t":"2022-01-20","v":110},{"s":"f","t":"2022-01-23","v":120},{"s":"f","t":"2022-01-27","v":100},{"s":"f","t":"2022-01-31","v":105},{"s":"f","t":"2022-02-05","v":85},{"s":"f","t":"2022-02-10","v":74},{"s":"f","t":"2022-02-23","v":61},{"s":"f","t":"2022-03-08","v":54},{"s":"f","t":"2022-03-21","v":54},{"s":"f","t":"2022-04-03","v":61},{"s":"f","t":"2022-04-16","v":61},{"s":"f","t":"2022-05-12","v":54},{"s":"f","t":"2022-06-14","v":49},{"s":"f","t":"2022-07-16","v":43},{"s":"f","t":"2022-08-18","v":36},{"s":"f","t":"2022-09-20","v":36},{"s":"f","t":"2022-10-22","v":43},{"s":"f","t":"2022-11-24","v":49},{"s":"f","t":"2022-12-26","v":61},{"s":"f","t":"2023-01-12","v":54},{"s":"f","t":"2023-02-14","v":43},{"s":"f","t":"2023-03-18","v":36},{"s":"f","t":"2023-04-20","v":36},{"s":"f","t":"2023-05-23","v":43},{"s":"f","t":"2023-06-24","v":36},{"s":"f","t":"2023-07-27","v":36},{"s":"f","t":"2023-08-11","v":36},
{"s":"c","t":"2022-07-01","v":15},{"s":"c","t":"2022-07-25","v":25},{"s":"c","t":"2022-08-18","v":36},{"s":"c","t":"2022-08-24","v":60},{"s":"c","t":"2022-08-31","v":87},{"s":"c","t":"2022-09-05","v":100},{"s":"c","t":"2022-09-10","v":100},{"s":"c","t":"2022-09-15","v":80},{"s":"c","t":"2022-09-20","v":74},{"s":"c","t":"2022-09-25","v":95},{"s":"c","t":"2022-09-30","v":112},{"s":"c","t":"2022-10-04","v":90},{"s":"c","t":"2022-10-09","v":74},{"s":"c","t":"2022-10-16","v":60},{"s":"c","t":"2022-10-22","v":49},{"s":"c","t":"2022-11-08","v":43},{"s":"c","t":"2022-11-24","v":36},{"s":"c","t":"2022-12-26","v":36},{"s":"c","t":"2023-01-12","v":43},{"s":"c","t":"2023-02-14","v":49},{"s":"c","t":"2023-03-18","v":54},{"s":"c","t":"2023-04-20","v":61},{"s":"c","t":"2023-05-23","v":69},{"s":"c","t":"2023-06-08","v":79},{"s":"c","t":"2023-06-18","v":74},{"s":"c","t":"2023-06-24","v":90},{"s":"c","t":"2023-07-04","v":79},{"s":"c","t":"2023-07-11","v":87},{"s":"c","t":"2023-07-20","v":74},{"s":"c","t":"2023-07-27","v":79},{"s":"c","t":"2023-08-04","v":90},{"s":"c","t":"2023-08-11","v":74},
{"s":"g","t":"2021-05-14","v":25},{"s":"g","t":"2021-05-31","v":28},{"s":"g","t":"2021-06-20","v":30},{"s":"g","t":"2021-07-10","v":32},{"s":"g","t":"2021-07-30","v":36},{"s":"g","t":"2021-08-09","v":36},{"s":"g","t":"2021-08-12","v":278},{"s":"g","t":"2021-08-14","v":419},{"s":"g","t":"2021-08-18","v":406},{"s":"g","t":"2021-08-21","v":419},{"s":"g","t":"2021-08-24","v":368},{"s":"g","t":"2021-08-27","v":330},{"s":"g","t":"2021-08-31","v":380},{"s":"g","t":"2021-09-03","v":342},{"s":"g","t":"2021-09-06","v":368},{"s":"g","t":"2021-09-09","v":432},{"s":"g","t":"2021-09-11","v":445},{"s":"g","t":"2021-09-13","v":317},{"s":"g","t":"2021-09-16","v":419},{"s":"g","t":"2021-09-19","v":432},{"s":"g","t":"2021-09-21","v":317},{"s":"g","t":"2021-09-23","v":278},{"s":"g","t":"2021-09-26","v":291},{"s":"g","t":"2021-09-28","v":253},{"s":"g","t":"2021-10-01","v":278},{"s":"g","t":"2021-10-04","v":227},{"s":"g","t":"2021-10-06","v":214},{"s":"g","t":"2021-10-08","v":380},{"s":"g","t":"2021-10-09","v":585},{"s":"g","t":"2021-10-12","v":521},{"s":"g","t":"2021-10-15","v":547},{"s":"g","t":"2021-10-17","v":483},{"s":"g","t":"2021-10-19","v":534},{"s":"g","t":"2021-10-22","v":457},{"s":"g","t":"2021-10-24","v":342},{"s":"g","t":"2021-10-27","v":368},{"s":"g","t":"2021-10-29","v":457},{"s":"g","t":"2021-11-01","v":445},{"s":"g","t":"2021-11-03","v":419},{"s":"g","t":"2021-11-06","v":432},{"s":"g","t":"2021-11-08","v":380},{"s":"g","t":"2021-11-10","v":304},{"s":"g","t":"2021-11-14","v":380},{"s":"g","t":"2021-11-17","v":355},{"s":"g","t":"2021-11-20","v":380},{"s":"g","t":"2021-11-23","v":355},{"s":"g","t":"2021-11-27","v":406},{"s":"g","t":"2021-11-30","v":355},{"s":"g","t":"2021-12-03","v":419},{"s":"g","t":"2021-12-07","v":470},{"s":"g","t":"2021-12-10","v":419},{"s":"g","t":"2021-12-12","v":483},{"s":"g","t":"2021-12-15","v":419},{"s":"g","t":"2021-12-17","v":470},{"s":"g","t":"2021-12-20","v":406},{"s":"g","t":"2021-12-22","v":457},{"s":"g","t":"2021-12-24","v":534},{"s":"g","t":"2021-12-27","v":508},{"s":"g","t":"2021-12-29","v":560},{"s":"g","t":"2022-01-01","v":508},{"s":"g","t":"2022-01-03","v":560},{"s":"g","t":"2022-01-06","v":547},{"s":"g","t":"2022-01-08","v":610},{"s":"g","t":"2022-01-11","v":547},{"s":"g","t":"2022-01-13","v":560},{"s":"g","t":"2022-01-15","v":496},{"s":"g","t":"2022-01-18","v":483},{"s":"g","t":"2022-01-21","v":432},{"s":"g","t":"2022-01-23","v":406},{"s":"g","t":"2022-01-25","v":470},{"s":"g","t":"2022-01-28","v":445},{"s":"g","t":"2022-01-30","v":380},{"s":"g","t":"2022-02-02","v":457},{"s":"g","t":"2022-02-04","v":432},{"s":"g","t":"2022-02-07","v":483},{"s":"g","t":"2022-02-09","v":406},{"s":"g","t":"2022-02-11","v":483},{"s":"g","t":"2022-02-14","v":457},{"s":"g","t":"2022-02-16","v":380},{"s":"g","t":"2022-02-19","v":432},{"s":"g","t":"2022-02-21","v":380},{"s":"g","t":"2022-02-24","v":317},{"s":"g","t":"2022-02-26","v":380},{"s":"g","t":"2022-03-01","v":304},{"s":"g","t":"2022-03-03","v":342},{"s":"g","t":"2022-03-05","v":304},{"s":"g","t":"2022-03-08","v":330},{"s":"g","t":"2022-03-11","v":299},{"s":"g","t":"2022-03-13","v":330},{"s":"g","t":"2022-03-15","v":291},{"s":"g","t":"2022-03-18","v":317},{"s":"g","t":"2022-03-20","v":278},{"s":"g","t":"2022-03-23","v":317},{"s":"g","t":"2022-03-25","v":304},{"s":"g","t":"2022-03-27","v":278},{"s":"g","t":"2022-03-30","v":317},{"s":"g","t":"2022-04-01","v":330},{"s":"g","t":"2022-04-04","v":304},{"s":"g","t":"2022-04-06","v":368},{"s":"g","t":"2022-04-10","v":330},{"s":"g","t":"2022-04-13","v":368},{"s":"g","t":"2022-04-16","v":355},{"s":"g","t":"2022-04-19","v":330},{"s":"g","t":"2022-04-23","v":355},{"s":"g","t":"2022-04-26","v":317},{"s":"g","t":"2022-04-28","v":380},{"s":"g","t":"2022-05-01","v":508},{"s":"g","t":"2022-05-03","v":483},{"s":"g","t":"2022-05-06","v":508},{"s":"g","t":"2022-05-08","v":457},{"s":"g","t":"2022-05-11","v":496},{"s":"g","t":"2022-05-13","v":534},{"s":"g","t":"2022-05-15","v":432},{"s":"g","t":"2022-05-18","v":355},{"s":"g","t":"2022-05-20","v":483},{"s":"g","t":"2022-05-23","v":457},{"s":"g","t":"2022-05-25","v":380},{"s":"g","t":"2022-05-28","v":432},{"s":"g","t":"2022-05-30","v":419},{"s":"g","t":"2022-06-01","v":483},{"s":"g","t":"2022-06-04","v":380},{"s":"g","t":"2022-06-07","v":521},{"s":"g","t":"2022-06-09","v":445},{"s":"g","t":"2022-06-11","v":560},{"s":"g","t":"2022-06-14","v":457},{"s":"g","t":"2022-06-16","v":432},{"s":"g","t":"2022-06-19","v":521},{"s":"g","t":"2022-06-21","v":457},{"s":"g","t":"2022-06-24","v":432},{"s":"g","t":"2022-06-26","v":483},{"s":"g","t":"2022-06-29","v":457},{"s":"g","t":"2022-07-02","v":457},{"s":"g","t":"2022-07-05","v":470},{"s":"g","t":"2022-07-08","v":432},{"s":"g","t":"2022-07-12","v":419},{"s":"g","t":"2022-07-15","v":380},{"s":"g","t":"2022-07-18","v":393},{"s":"g","t":"2022-07-21","v":330},{"s":"g","t":"2022-07-25","v":342},{"s":"g","t":"2022-07-28","v":317},{"s":"g","t":"2022-07-31","v":330},{"s":"g","t":"2022-08-03","v":317},{"s":"g","t":"2022-08-07","v":355},{"s":"g","t":"2022-08-10","v":380},{"s":"g","t":"2022-08-13","v":355},{"s":"g","t":"2022-08-16","v":342},{"s":"g","t":"2022-08-20","v":317},{"s":"g","t":"2022-08-23","v":304},{"s":"g","t":"2022-08-26","v":266},{"s":"g","t":"2022-08-30","v":253},{"s":"g","t":"2022-09-02","v":253},{"s":"g","t":"2022-09-05","v":227},{"s":"g","t":"2022-09-08","v":253},{"s":"g","t":"2022-09-12","v":240},{"s":"g","t":"2022-09-15","v":278},{"s":"g","t":"2022-09-18","v":227},{"s":"g","t":"2022-09-21","v":214},{"s":"g","t":"2022-09-25","v":227},{"s":"g","t":"2022-09-28","v":266},{"s":"g","t":"2022-10-01","v":330},{"s":"g","t":"2022-10-04","v":317},{"s":"g","t":"2022-10-08","v":330},{"s":"g","t":"2022-10-11","v":304},{"s":"g","t":"2022-10-14","v":278},{"s":"g","t":"2022-10-18","v":317},{"s":"g","t":"2022-10-21","v":291},{"s":"g","t":"2022-10-24","v":330},{"s":"g","t":"2022-10-27","v":355},{"s":"g","t":"2022-10-31","v":330},{"s":"g","t":"2022-11-03","v":317},{"s":"g","t":"2022-11-06","v":278},{"s":"g","t":"2022-11-09","v":253},{"s":"g","t":"2022-11-13","v":278},{"s":"g","t":"2022-11-16","v":253},{"s":"g","t":"2022-11-19","v":291},{"s":"g","t":"2022-11-22","v":253},{"s":"g","t":"2022-11-26","v":317},{"s":"g","t":"2022-11-29","v":278},{"s":"g","t":"2022-12-02","v":240},{"s":"g","t":"2022-12-05","v":266},{"s":"g","t":"2022-12-09","v":227},{"s":"g","t":"2022-12-12","v":291},{"s":"g","t":"2022-12-15","v":227},{"s":"g","t":"2022-12-17","v":253},{"s":"g","t":"2022-12-20","v":304},{"s":"g","t":"2022-12-23","v":330},{"s":"g","t":"2022-12-27","v":304},{"s":"g","t":"2022-12-30","v":317},{"s":"g","t":"2023-01-02","v":342},{"s":"g","t":"2023-01-05","v":304},{"s":"g","t":"2023-01-09","v":291},{"s":"g","t":"2023-01-12","v":317},{"s":"g","t":"2023-01-15","v":278},{"s":"g","t":"2023-01-19","v":266},{"s":"g","t":"2023-01-22","v":278},{"s":"g","t":"2023-01-25","v":253},{"s":"g","t":"2023-01-28","v":266},{"s":"g","t":"2023-02-01","v":227},{"s":"g","t":"2023-02-04","v":253},{"s":"g","t":"2023-02-07","v":227},{"s":"g","t":"2023-02-10","v":253},{"s":"g","t":"2023-02-14","v":214},{"s":"g","t":"2023-02-17","v":227},{"s":"g","t":"2023-02-20","v":197},{"s":"g","t":"2023-02-23","v":227},{"s":"g","t":"2023-02-27","v":189},{"s":"g","t":"2023-03-02","v":214},{"s":"g","t":"2023-03-05","v":176},{"s":"g","t":"2023-03-08","v":202},{"s":"g","t":"2023-03-12","v":163},{"s":"g","t":"2023-03-15","v":227},{"s":"g","t":"2023-03-18","v":278},{"s":"g","t":"2023-03-22","v":253},{"s":"g","t":"2023-03-25","v":330},{"s":"g","t":"2023-03-28","v":355},{"s":"g","t":"2023-03-31","v":330},{"s":"g","t":"2023-04-04","v":380},{"s":"g","t":"2023-04-07","v":419},{"s":"g","t":"2023-04-08","v":534},{"s":"g","t":"2023-04-11","v":508},{"s":"g","t":"2023-04-13","v":432},{"s":"g","t":"2023-04-14","v":534},{"s":"g","t":"2023-04-16","v":508},{"s":"g","t":"2023-04-17","v":393},{"s":"g","t":"2023-04-20","v":419},{"s":"g","t":"2023-04-23","v":330},{"s":"g","t":"2023-04-25","v":355},{"s":"g","t":"2023-04-28","v":317},{"s":"g","t":"2023-05-01","v":330},{"s":"g","t":"2023-05-05","v":291},{"s":"g","t":"2023-05-08","v":317},{"s":"g","t":"2023-05-11","v":278},{"s":"g","t":"2023-05-14","v":304},{"s":"g","t":"2023-05-18","v":278},{"s":"g","t":"2023-05-21","v":253},{"s":"g","t":"2023-05-24","v":202},{"s":"g","t":"2023-05-26","v":189},{"s":"g","t":"2023-05-29","v":227},{"s":"g","t":"2023-06-01","v":304},{"s":"g","t":"2023-06-03","v":368},{"s":"g","t":"2023-06-06","v":342},{"s":"g","t":"2023-06-10","v":317},{"s":"g","t":"2023-06-13","v":355},{"s":"g","t":"2023-06-16","v":330},{"s":"g","t":"2023-06-19","v":355},{"s":"g","t":"2023-06-23","v":317},{"s":"g","t":"2023-06-26","v":355},{"s":"g","t":"2023-06-29","v":330},{"s":"g","t":"2023-07-02","v":386},{"s":"g","t":"2023-07-06","v":330},{"s":"g","t":"2023-07-09","v":368},{"s":"g","t":"2023-07-12","v":317},{"s":"g","t":"2023-07-15","v":355},{"s":"g","t":"2023-07-19","v":278},{"s":"g","t":"2023-07-22","v":278},{"s":"g","t":"2023-07-25","v":266},{"s":"g","t":"2023-07-28","v":330},{"s":"g","t":"2023-08-01","v":317},{"s":"g","t":"2023-08-04","v":342},{"s":"g","t":"2023-08-07","v":342},{"s":"g","t":"2023-08-11","v":317},
{"s":"i","t":"2021-05-11","v":3},{"s":"i","t":"2021-05-31","v":3},{"s":"i","t":"2021-06-20","v":3},{"s":"i","t":"2021-07-15","v":3},{"s":"i","t":"2021-07-20","v":20},{"s":"i","t":"2021-07-24","v":87},{"s":"i","t":"2021-07-29","v":43},{"s":"i","t":"2021-08-04","v":28},{"s":"i","t":"2021-08-14","v":18},{"s":"i","t":"2021-09-16","v":13},{"s":"i","t":"2021-11-04","v":10},{"s":"i","t":"2021-12-23","v":8},{"s":"i","t":"2022-02-10","v":8},{"s":"i","t":"2022-04-16","v":8},{"s":"i","t":"2022-06-14","v":8},{"s":"i","t":"2022-08-18","v":10},{"s":"i","t":"2022-10-22","v":10},{"s":"i","t":"2022-12-26","v":13},{"s":"i","t":"2023-03-02","v":15},{"s":"i","t":"2023-05-01","v":18},{"s":"i","t":"2023-06-30","v":18},{"s":"i","t":"2023-08-11","v":18}
]
},
"encoding":{
"x":{"field":"t","type":"temporal","title":null,
 "scale":{"type":"utc","domain":[{"year":2019,"month":7,"date":1,"utc":true},{"year":2023,"month":8,"date":12,"utc":true}]},
 "axis":{"values":[{"year":2019,"month":7,"date":1,"utc":true},{"year":2019,"month":11,"date":15,"utc":true},{"year":2020,"month":3,"date":30,"utc":true},{"year":2020,"month":8,"date":14,"utc":true},{"year":2020,"month":12,"date":29,"utc":true},{"year":2021,"month":5,"date":14,"utc":true},{"year":2021,"month":9,"date":28,"utc":true},{"year":2022,"month":2,"date":11,"utc":true},{"year":2022,"month":6,"date":28,"utc":true},{"year":2022,"month":11,"date":12,"utc":true},{"year":2023,"month":3,"date":28,"utc":true},{"year":2023,"month":8,"date":12,"utc":true}],
 "labelExpr":"utcFormat(datum.value, '%b %-d, %Y')","labelFlush":true,"labelOverlap":false,"labelPadding":13}},
"y":{"field":"v","type":"quantitative","title":null,
 "scale":{"domain":[0,2000],"nice":false,"zero":true},
 "axis":{"values":[0,250,500,750,1000,1250,1500,1750,2000],
 "labelExpr":"datum.value >= 1000 ? format(datum.value/1000, '.2f') + 'm' : (datum.value == 0 ? '0' : format(datum.value, 'd') + 'k')","labelPadding":11}}
},
"layer":[
{"data":{"values":[{"t":"2019-07-29","v":1824}]},
 "mark":{"type":"point","shape":"M-0.55,-0.75L0.55,-0.75L1,-0.25L0,0.85L-1,-0.25Z M-1,-0.25L1,-0.25 M-0.55,-0.75L-0.3,-0.25L0,0.85 M0.55,-0.75L0.3,-0.25L0,0.85 M-0.3,-0.25L0,-0.75L0.3,-0.25","size":1700,"filled":false,"stroke":"#d3d4d9","strokeWidth":2.2,"opacity":1}},
{"data":{"values":[{"t":"2019-08-26","v":1824,"txt":"data.ai"}]},
 "mark":{"type":"text","align":"left","baseline":"middle","font":"Open Sans","fontSize":21,"color":"#cfd0d5"},
 "encoding":{"text":{"field":"txt"}}},
{"data":{"values":[{"t":"2023-08-12","v":1930,"txt":"© 2023 data.ai Intelligence | ogri_writers@naavik.co"}]},
 "mark":{"type":"text","align":"right","baseline":"middle","dx":-5,"font":"Open Sans","fontSize":10,"color":"#8b8e99"},
 "encoding":{"text":{"field":"txt"}}},
{"data":{"name":"rows"},
 "transform":[{"filter":"datum.s != 'i'"},{"lookup":"s","from":{"data":{"name":"names"},"key":"s","fields":["n"]}}],
 "mark":{"type":"line","strokeWidth":2.7,"strokeJoin":"round","strokeCap":"round","interpolate":"linear"},
 "encoding":{"color":{"field":"n","type":"nominal","title":null,
  "scale":{"domain":["DOP 2: Delete One Part (Unified)","DOP: Draw One Part (Unified)","Dreamdale - Fairy Adventure (Unified)","Jelly Shift (Unified)","Johnny Trigger (Unified)","My Little Universe (Unified)","Race Master (Unified)","Sand Balls (Unified)"],
   "range":["#0ba0f5","#6b0fdb","#3ba07d","#0d0b5c","#ff6a2a","#c1036f","#170ba8","#a577e8"]},
  "legend":{"columns":8,"symbolType":"circle","encode":{"symbols":{"update":{"fill":{"scale":"color","field":"value"},"fillOpacity":{"value":1},"strokeWidth":{"value":0}}}}}}}},
{"data":{"name":"rows"},
 "transform":[{"filter":"datum.s == 'i'"},{"lookup":"s","from":{"data":{"name":"names"},"key":"s","fields":["n"]}}],
 "mark":{"type":"line","strokeWidth":2.7,"strokeJoin":"round","strokeCap":"round"},
 "encoding":{"stroke":{"field":"n","type":"nominal","title":null,
  "scale":{"domain":["Squad Alpha (Unified)"],"range":["#0c4c4c"]},
  "legend":{"columns":1,"symbolType":"circle","encode":{"symbols":{"update":{"fill":{"scale":"stroke","field":"value"},"fillOpacity":{"value":1},"strokeWidth":{"value":0}}}}}}}}
],
"config":{
 "view":{"stroke":null},
 "font":"Open Sans",
 "axis":{"domain":false,"ticks":false,"gridColor":"#e3e5eb","gridWidth":1,"labelColor":"#7b8396","labelFont":"Open Sans","labelFontSize":11},
 "legend":{"orient":"bottom","direction":"horizontal","symbolSize":140,"symbolStrokeWidth":0,"labelFont":"Open Sans","labelFontSize":12.5,"labelColor":"#4a4e5c","labelOffset":7,"columnPadding":16,"offset":39,"padding":0,"labelLimit":400,
  "layout":{"bottom":{"anchor":"middle","direction":"vertical","center":true,"margin":22}}}
}
}
